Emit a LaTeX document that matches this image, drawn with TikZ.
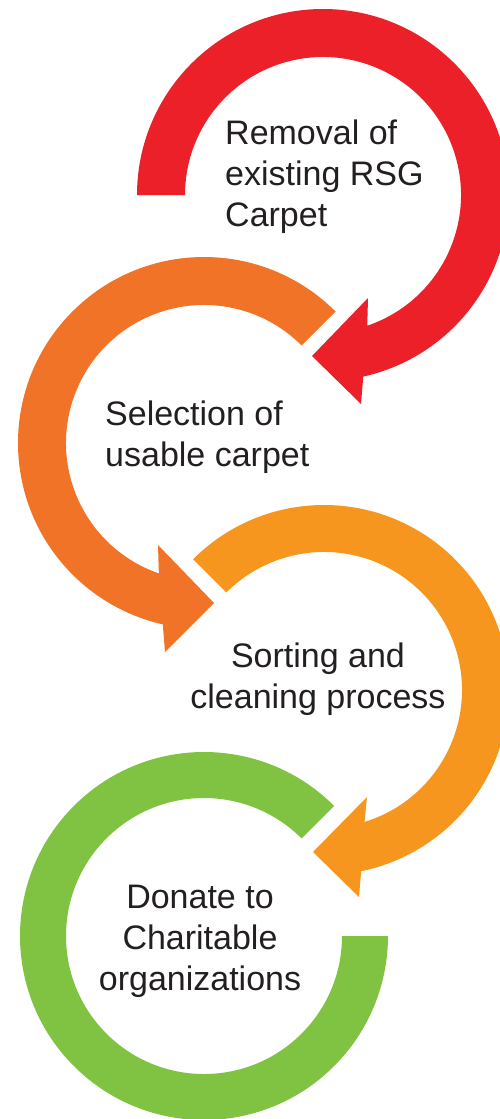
\documentclass[tikz,border=0pt]{standalone}
\usepackage{fontspec}
\setmainfont{Liberation Sans}
\usetikzlibrary{calc}
\definecolor{redc}{HTML}{EC2029}
\definecolor{orangec}{HTML}{F17327}
\definecolor{lorangec}{HTML}{F7961F}
\definecolor{greenc}{HTML}{80C342}
\definecolor{textc}{HTML}{231F20}
\begin{document}
\begin{tikzpicture}[x=1pt,y=1pt,
  label/.style={font=\fontsize{34}{41}\selectfont, text=textc, inner sep=0pt}]
\useasboundingbox (0,0) rectangle (500,-1119);
% red
\coordinate (cr) at (323,-195);
\fill[redc] ($(cr)+(180:186)$) arc[start angle=180, end angle=-77.5, radius=186]
  -- (361,-404) -- (312,-356) -- (368,-298)
  -- ($(cr)+(-71.3:138)$) arc[start angle=-71.3, end angle=180, radius=138] -- cycle;
% orange
\coordinate (co) at (204,-443);
\fill[orangec] ($(co)+(45:186)$) arc[start angle=45, end angle=257.2, radius=186]
  -- (165,-652) -- (214,-603) -- (158,-545)
  -- ($(co)+(250.9:138)$) arc[start angle=250.9, end angle=45, radius=138] -- cycle;
% light orange
\coordinate (cl) at (324,-690);
\fill[lorangec] ($(cl)+(135:185)$) arc[start angle=135, end angle=-78.4, radius=185]
  -- (359,-897) -- (313,-852) -- (367,-797)
  -- ($(cl)+(-72.9:138)$) arc[start angle=-72.9, end angle=135, radius=138] -- cycle;
% green
\coordinate (cg) at (204,-936);
\fill[greenc] ($(cg)+(45:184)$) arc[start angle=45, end angle=360, radius=184]
  -- ($(cg)+(0:138)$) arc[start angle=360, end angle=45, radius=138] -- cycle;
% texts
\node[label, align=left, anchor=north west] (t1) at (225,-120) {Removal of\\existing RSG\\Carpet};
\node[label, align=left, anchor=north west] (t2) at (105,-401) {Selection of\\usable carpet};
\node[label, align=center, anchor=north] (t3) at (318,-643) {Sorting and\\cleaning process};
\node[label, align=center, anchor=north] (t4) at (200,-885) {Donate to\\Charitable\\organizations};
\end{tikzpicture}
\end{document}
